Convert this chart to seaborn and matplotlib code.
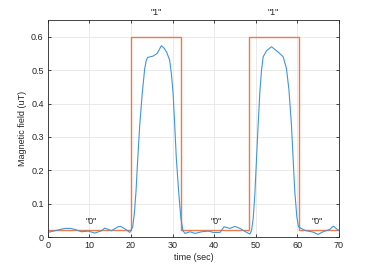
import matplotlib
matplotlib.use("Agg")
import seaborn as sns
import matplotlib.pyplot as plt
import pandas as pd

sns.set_theme(style = "whitegrid")
plt.rcParams['font.family'] = ['Liberation Sans', 'DejaVu Sans']

t_meas = [0, 1.7, 3.0, 4.1, 5.5, 6.5, 8.1, 9.7, 11.3, 12.9, 13.7, 15.3, 16.9, 17.5, 18.5,
          19.7, 20.4, 20.8, 21.2, 21.6, 22.1, 22.7, 23.3, 23.7, 24.0, 25.3, 26.3, 27.3, 28.0,
          28.6, 29.3, 29.7, 30.1, 30.5, 30.9, 31.5, 32.0, 32.5, 33.0, 34.2, 35.4, 37.0, 38.6,
          39.8, 41.4, 42.4, 43.8, 45.0, 46.2, 47.4, 48.6, 49.0, 49.4, 49.8, 50.2, 50.6, 51.0,
          51.4, 51.8, 52.6, 53.8, 55.5, 56.6, 57.4, 58.0, 58.6, 59.0, 59.4, 59.9, 60.3, 61.5,
          62.2, 63.8, 65.0, 66.2, 67.8, 68.7, 69.3, 70]
b_meas = [0.014, 0.019, 0.023, 0.026, 0.026, 0.023, 0.016, 0.018, 0.012, 0.019, 0.027, 0.019,
          0.031, 0.032, 0.025, 0.014, 0.03, 0.07, 0.136, 0.23, 0.335, 0.43, 0.505, 0.53, 0.538,
          0.542, 0.55, 0.573, 0.565, 0.553, 0.53, 0.49, 0.435, 0.34, 0.236, 0.13, 0.056, 0.019,
          0.011, 0.016, 0.011, 0.016, 0.018, 0.014, 0.014, 0.031, 0.026, 0.032, 0.026, 0.017,
          0.009, 0.02, 0.056, 0.13, 0.236, 0.34, 0.435, 0.5, 0.54, 0.558, 0.57, 0.553, 0.54,
          0.505, 0.44, 0.335, 0.235, 0.136, 0.06, 0.031, 0.022, 0.019, 0.015, 0.008, 0.016,
          0.023, 0.033, 0.026, 0.02]

# transmitted bits (square wave)
t_bits = [0, 19.9, 19.9, 32.1, 32.1, 48.5, 48.5, 60.5, 60.5, 70]
b_bits = [0.02, 0.02, 0.6, 0.6, 0.02, 0.02, 0.6, 0.6, 0.02, 0.02]

labels = ['"0"', '"1"', '"0"', '"1"', '"0"']
label_t = [10.5, 26.1, 40.4, 54.1, 64.7]
label_y = [0.046, 0.672, 0.046, 0.672, 0.046]

meas = pd.DataFrame({'t': t_meas, 'b': b_meas})
bits = pd.DataFrame({'t': t_bits, 'b': b_bits})

fig = plt.figure(figsize = (3.74, 2.67), dpi = 100)
ax = fig.add_axes([0.128, 0.112, 0.778, 0.813])

sns.lineplot(data = bits, x = 't', y = 'b', ax = ax, color = '#ec7a4a', linewidth = 1.0,
             sort = False, estimator = None)
sns.lineplot(data = meas, x = 't', y = 'b', ax = ax, color = '#3f96da', linewidth = 0.8,
             sort = False, estimator = None)

for lab, tx, ty in zip(labels, label_t, label_y):
    ax.text(tx, ty, lab, ha = 'center', va = 'center', fontsize = 6.5, color = '#262626', clip_on = False)

ax.set_xlim(0, 70)
ax.set_ylim(0, 0.65)
ax.set_xticks(range(0, 71, 10))
ax.set_yticks([0, 0.1, 0.2, 0.3, 0.4, 0.5, 0.6])
ax.set_yticklabels(['0', '0.1', '0.2', '0.3', '0.4', '0.5', '0.6'])
ax.set_xlabel('time (sec)', fontsize = 6.5, color = '#262626', labelpad = 2)
ax.set_ylabel('Magnetic field (uT)', fontsize = 6.5, color = '#262626', labelpad = 3)

ax.set_facecolor('white')
ax.grid(True, color = '#e6e6e6', linewidth = 0.6)
for s in ax.spines.values():
    s.set_visible(True)
    s.set_color('#262626')
    s.set_linewidth(0.6)
ax.tick_params(direction = 'in', length = 2.5, width = 0.6, labelsize = 6.5, colors = '#262626',
               top = True, right = True, bottom = True, left = True, pad = 3)

fig.savefig('out.png', dpi = 100, facecolor = 'white')
